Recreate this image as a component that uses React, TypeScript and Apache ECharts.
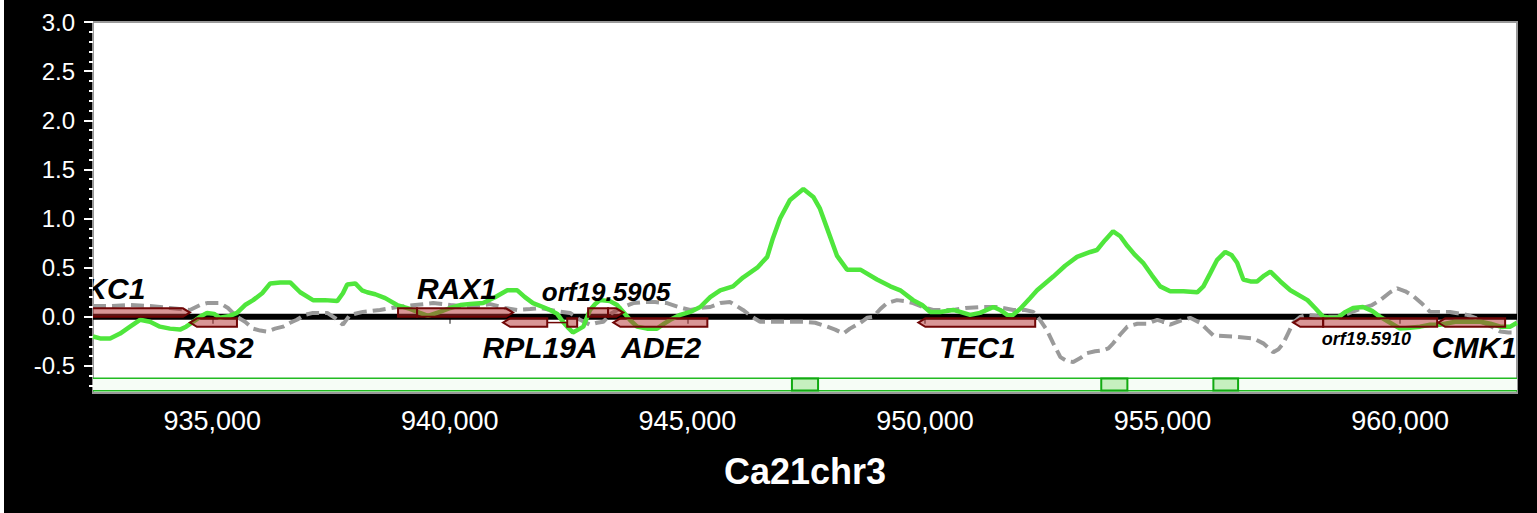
import React, { useEffect, useRef } from "react";
import * as echarts from "echarts";

const X_MIN = 932490;
const X_MAX = 962460;
const Y_MIN = -0.775;
const Y_MAX = 3.0;

const chromosomeName = "Ca21chr3";

const xTickValues = [935000, 940000, 945000, 950000, 955000, 960000];
const yTickValues = [-0.5, 0, 0.5, 1.0, 1.5, 2.0, 2.5, 3.0];
const yMinorTickValues = [
  -0.7, -0.6, -0.5, -0.4, -0.3, -0.2, -0.1, 0, 0.1, 0.2, 0.3, 0.4, 0.5, 0.6, 0.7, 0.8, 0.9, 1.0,
  1.1, 1.2, 1.3, 1.4, 1.5, 1.6, 1.7, 1.8, 1.9, 2.0, 2.1, 2.2, 2.3, 2.4, 2.5, 2.6, 2.7, 2.8, 2.9, 3.0,
];

// solid green profile
const greenPos = [
  932490, 932640, 932850, 933060, 933270, 933480, 933690, 933900, 934110, 934320, 934450, 934570,
  934740, 934890, 935040, 935160, 935370, 935520, 935690, 935860, 936050, 936220, 936430, 936640,
  936850, 937120, 937370, 937630, 937750, 937840, 938010, 938150, 938260, 938430, 938640, 938890,
  939160, 939370, 939540, 939790, 940010, 940220, 940430, 940700, 940950, 941210, 941420, 941580,
  941750, 941960, 942110, 942260, 942380, 942490, 942590, 942700, 942810, 942950, 943060, 943160,
  943370, 943520, 943650, 943790, 943940, 944150, 944360, 944510, 944640, 944850, 945060, 945270,
  945480, 945690, 945960, 946170, 946470, 946680, 946800, 946950, 947160, 947440, 947650, 947790,
  947940, 948150, 948360, 948640, 948990, 949270, 949480, 949750, 949940, 950110, 950320, 950590,
  950740, 950950, 951160, 951440, 951580, 951730, 951840, 952000, 952210, 952360, 952700, 952950,
  953200, 953480, 953620, 953790, 953960, 954110, 954260, 954420, 954590, 954780, 954950, 955160,
  955440, 955730, 955860, 956000, 956150, 956320, 956450, 956570, 956700, 956850, 956990, 957140,
  957270, 957480, 957690, 958050, 958210, 958380, 958530, 958680, 958850, 959010, 959220, 959410,
  959580, 959790, 960000, 960210, 960420, 960630, 960840, 961160, 961410, 961690, 961900, 962110,
  962320, 962460,
];
const greenVal = [
  -0.2, -0.22, -0.22, -0.17, -0.1, -0.03, -0.05, -0.1, -0.12, -0.13, -0.1, -0.06,
  0.0, 0.04, 0.03, -0.01, 0.01, 0.04, 0.12, 0.17, 0.24, 0.34, 0.35, 0.35,
  0.25, 0.17, 0.17, 0.16, 0.24, 0.33, 0.34, 0.27, 0.25, 0.23, 0.19, 0.12,
  0.08, 0.04, 0.01, 0.05, 0.09, 0.12, 0.13, 0.14, 0.2, 0.27, 0.27, 0.2,
  0.14, 0.1, 0.07, 0.03, -0.05, -0.11, -0.16, -0.13, -0.1, 0.07, 0.13, 0.17,
  0.16, 0.12, 0.05, -0.03, -0.1, -0.12, -0.12, -0.07, -0.03, 0.02, 0.05, 0.1,
  0.2, 0.27, 0.31, 0.4, 0.5, 0.61, 0.8, 1.0, 1.19, 1.3, 1.22, 1.1,
  0.9, 0.62, 0.48, 0.48, 0.38, 0.31, 0.27, 0.17, 0.12, 0.05, 0.05, 0.07,
  0.05, 0.02, 0.04, 0.1, 0.07, 0.02, 0.015, 0.08, 0.19, 0.27, 0.41, 0.52,
  0.61, 0.66, 0.68, 0.78, 0.87, 0.82, 0.72, 0.63, 0.55, 0.42, 0.31, 0.26,
  0.26, 0.25, 0.31, 0.44, 0.58, 0.66, 0.63, 0.55, 0.38, 0.36, 0.36, 0.42,
  0.46, 0.36, 0.27, 0.17, 0.09, 0.0, -0.01, -0.01, 0.05, 0.09, 0.1, 0.06,
  0.0, -0.06, -0.12, -0.11, -0.1, -0.08, -0.08, -0.05, -0.05, -0.05, -0.07, -0.1,
  -0.1, -0.06,
];

// dashed grey profile
const greyPos = [
  932490, 932850, 933270, 933690, 934110, 934530, 934740, 934890, 935160, 935330, 935520, 935690,
  935860, 936010, 936150, 936320, 936490, 936640, 936780, 936950, 937120, 937420, 937580, 937750,
  937900, 938170, 938530, 938890, 939270, 939650, 940010, 940430, 940850, 941160, 941420, 941690,
  941900, 942220, 942530, 942740, 942950, 943100, 943230, 943410, 943650, 943860, 944070, 944320,
  944570, 944810, 945060, 945270, 945480, 945690, 945900, 946170, 946360, 946530, 946950, 947440,
  947690, 947940, 948110, 948280, 948420, 948640, 948780, 948910, 949060, 949200, 949410, 949580,
  949750, 949960, 950170, 950590, 950850, 951160, 951520, 951860, 952110, 952280, 952420, 952570,
  952700, 952850, 952990, 953120, 953270, 953410, 953580, 953750, 953860, 953960, 954110, 954260,
  954470, 954680, 954890, 955020, 955160, 955370, 955580, 955790, 955940, 956070, 956490, 956910,
  957120, 957330, 957440, 957540, 957650, 957750, 957900, 958050, 958380, 958740, 958990, 959220,
  959410, 959580, 959790, 959940, 960110, 960280, 960470, 960630, 960840, 961050, 961410, 961580,
  961750, 961930, 962110, 962280, 962460,
];
const greyVal = [
  0.11, 0.11, 0.12, 0.11, 0.09, 0.07, 0.12, 0.14, 0.14, 0.09, 0.0, -0.05,
  -0.12, -0.14, -0.15, -0.12, -0.1, -0.06, -0.03, 0.02, 0.04, 0.04, -0.01, -0.08,
  0.02, 0.05, 0.07, 0.1, 0.12, 0.14, 0.12, 0.1, 0.13, 0.09, 0.07, 0.08,
  0.09, 0.06, 0.04, -0.03, -0.08, -0.06, -0.05, 0.04, 0.1, 0.14, 0.15, 0.15,
  0.14, 0.1, 0.07, 0.09, 0.1, 0.14, 0.15, 0.07, 0.0, -0.05, -0.05, -0.05,
  -0.06, -0.1, -0.13, -0.17, -0.12, -0.06, -0.01, 0.0, 0.08, 0.14, 0.17, 0.16,
  0.14, 0.1, 0.07, 0.07, 0.09, 0.1, 0.1, 0.07, 0.07, 0.05, -0.03, -0.14,
  -0.27, -0.41, -0.45, -0.46, -0.42, -0.37, -0.35, -0.34, -0.32, -0.27, -0.18, -0.1,
  -0.07, -0.07, -0.03, -0.05, -0.08, -0.04, -0.01, -0.06, -0.13, -0.19, -0.2, -0.22,
  -0.27, -0.36, -0.33, -0.27, -0.16, -0.06, 0.0, 0.02, 0.0, 0.0, 0.05, 0.09,
  0.12, 0.17, 0.25, 0.29, 0.26, 0.21, 0.13, 0.05, 0.05, 0.05, 0.02, -0.01,
  -0.06, -0.1, -0.15, -0.16, -0.16,
];

// gene features
const geneNames = ["PKC1", "RAS2", "RAX1", "RPL19A", "orf19.5905", "ADE2", "TEC1", "orf19.5910", "CMK1"];
const geneStrands = [1, -1, 1, -1, 1, -1, -1, -1, -1];
const geneExons: number[][][] = [
  [[930800, 934530]],
  [[934530, 935520]],
  [[938910, 939310], [939310, 941330]],
  [[941120, 942050], [942470, 942680]],
  [[942910, 943330], [943330, 943650]],
  [[943440, 945420]],
  [[949860, 952320]],
  [[957750, 958380], [958380, 960780]],
  [[960800, 962210]],
];

// gene labels (text, position, value)
const labelTexts = ["KC1", "RAS2", "RAX1", "RPL19A", "orf19.5905", "ADE2", "TEC1", "orf19.5910", "CMK1"];
const labelPos = [932960, 935030, 940150, 941900, 943290, 944450, 951100, 959290, 961560];
const labelVal = [0.285, -0.31, 0.285, -0.31, 0.25, -0.31, -0.31, -0.23, -0.31];

// annotation track hits
const trackStarts = [947200, 953710, 956070];
const trackEnds = [947750, 954260, 956590];

const LABEL_SIZE: Record<string, number> = { "orf19.5905": 26, "orf19.5910": 18 };
const FONT = "'Liberation Sans', Arial, Helvetica, sans-serif";
const GENE_FILL = "rgba(180,45,45,0.5)";
const GENE_STROKE = "#700606";

export default function App() {
  const ref = useRef<HTMLDivElement>(null);

  useEffect(() => {
    if (!ref.current) return;
    const chart = echarts.init(ref.current, null, { renderer: "svg" });

    const option: any = {
      animation: false,
      backgroundColor: "#000",
      grid: {
        left: 89,
        right: 20,
        top: 22,
        bottom: 120,
        show: true,
        backgroundColor: "#fff",
        borderColor: "#999",
        borderWidth: 2,
      },
      xAxis: {
        type: "value",
        min: X_MIN,
        max: X_MAX,
        name: chromosomeName,
        nameLocation: "middle",
        nameGap: 60,
        nameTextStyle: { color: "#fff", fontSize: 36, fontWeight: "bold", fontFamily: FONT },
        axisLine: { show: false },
        splitLine: { show: false },
        axisTick: {
          show: true,
          customValues: xTickValues,
          length: 7,
          lineStyle: { color: "#888", width: 2 },
        },
        axisLabel: {
          customValues: xTickValues,
          color: "#fff",
          fontSize: 27,
          fontFamily: FONT,
          margin: 14,
          formatter: (v: number) => v.toLocaleString("en-US"),
        },
      },
      yAxis: [
        {
          type: "value",
          min: Y_MIN,
          max: Y_MAX,
          position: "left",
          axisLine: { show: false },
          splitLine: { show: false },
          axisTick: {
            show: true,
            customValues: yTickValues,
            length: 9,
            lineStyle: { color: "#fff", width: 2 },
          },
          axisLabel: {
            customValues: yTickValues,
            color: "#fff",
            fontSize: 24,
            fontFamily: FONT,
            margin: 18,
            formatter: (v: number) => v.toFixed(1),
          },
        },
        {
          type: "value",
          min: Y_MIN,
          max: Y_MAX,
          position: "left",
          axisLine: { show: false },
          splitLine: { show: false },
          axisLabel: { show: false },
          axisTick: {
            show: true,
            customValues: yMinorTickValues,
            length: 4,
            lineStyle: { color: "#fff", width: 2 },
          },
        },
      ],
      series: [
        {
          type: "line",
          name: "zero",
          data: [
            [X_MIN, 0],
            [X_MAX, 0],
          ],
          symbol: "none",
          lineStyle: { color: "#000", width: 6 },
          z: 1,
          silent: true,
        },
        {
          type: "custom",
          name: "trackBand",
          data: [[X_MIN, X_MAX, 0]],
          encode: { x: [0, 1], y: 2 },
          z: 1,
          silent: true,
          renderItem: (params: any, api: any) => {
            const cs = params.coordSys;
            const bottom = cs.y + cs.height;
            const top = bottom - 14.7;
            const low = bottom - 2.3;
            return {
              type: "group",
              children: [
                { type: "rect", shape: { x: cs.x, y: top, width: cs.width, height: low - top }, style: { fill: "#f6fdf6" } },
                { type: "line", shape: { x1: cs.x, y1: top, x2: cs.x + cs.width, y2: top }, style: { stroke: "#22bb22", lineWidth: 1.5 } },
                { type: "line", shape: { x1: cs.x, y1: low, x2: cs.x + cs.width, y2: low }, style: { stroke: "#22bb22", lineWidth: 1.5 } },
              ],
            };
          },
        },
        {
          type: "custom",
          name: "trackHits",
          data: trackStarts.map((s, i) => [s, trackEnds[i], 0]),
          encode: { x: [0, 1], y: 2 },
          z: 2,
          silent: true,
          renderItem: (params: any, api: any) => {
            const cs = params.coordSys;
            const bottom = cs.y + cs.height;
            const x0 = api.coord([api.value(0), 0])[0];
            const x1 = api.coord([api.value(1), 0])[0];
            return {
              type: "rect",
              shape: { x: x0, y: bottom - 14.5, width: x1 - x0, height: 12 },
              style: { fill: "#c6f0bf", stroke: "#11aa11", lineWidth: 2 },
            };
          },
        },
        {
          type: "line",
          name: "grey",
          data: greyPos.map((x, i) => [x, greyVal[i]]),
          symbol: "none",
          showSymbol: false,
          lineStyle: { color: "#9a9a9a", width: 4, type: [13, 6] },
          z: 3,
          silent: true,
        },
        {
          type: "line",
          name: "green",
          data: greenPos.map((x, i) => [x, greenVal[i]]),
          symbol: "none",
          showSymbol: false,
          lineStyle: { color: "#4fe63c", width: 4.5 },
          z: 4,
          silent: true,
        },
        {
          type: "custom",
          name: "genes",
          clip: true,
          z: 5,
          silent: true,
          data: geneNames.map((n, i) => [geneExons[i][0][0], geneExons[i][geneExons[i].length - 1][1], 0, i]),
          encode: { x: [0, 1], y: 2 },
          renderItem: (params: any, api: any) => {
            const i = api.value(3);
            const exons = geneExons[i];
            const strand = geneStrands[i];
            const y0 = api.coord([X_MIN, 0])[1];
            const top = strand > 0 ? y0 - 8.5 : y0 + 1.5;
            const bot = strand > 0 ? y0 : y0 + 10;
            const mid = (top + bot) / 2;
            const TIP = 7;
            const children: any[] = [];
            for (let k = 0; k < exons.length - 1; k++) {
              const a = api.coord([exons[k][1], 0])[0];
              const b = api.coord([exons[k + 1][0], 0])[0];
              if (b - a > 1) {
                children.push({
                  type: "line",
                  shape: { x1: a, y1: mid, x2: b, y2: mid },
                  style: { stroke: GENE_STROKE, lineWidth: 1.5 },
                });
              }
            }
            exons.forEach((ex, k) => {
              const xs = api.coord([ex[0], 0])[0];
              const xe = api.coord([ex[1], 0])[0];
              let pts: number[][];
              if (strand > 0 && k === exons.length - 1) {
                pts = [[xs, top], [xe - TIP, top], [xe, mid], [xe - TIP, bot], [xs, bot]];
              } else if (strand < 0 && k === 0) {
                pts = [[xs, mid], [xs + TIP, top], [xe, top], [xe, bot], [xs + TIP, bot]];
              } else {
                pts = [[xs, top], [xe, top], [xe, bot], [xs, bot]];
              }
              children.push({
                type: "polygon",
                shape: { points: pts },
                style: { fill: GENE_FILL, stroke: GENE_STROKE, lineWidth: 2 },
              });
            });
            return { type: "group", children };
          },
        },
        {
          type: "custom",
          name: "geneLabels",
          clip: true,
          z: 6,
          silent: true,
          data: labelTexts.map((t, i) => [labelPos[i], labelVal[i], i]),
          encode: { x: 0, y: 1 },
          renderItem: (params: any, api: any) => {
            const i = api.value(2);
            const p = api.coord([api.value(0), api.value(1)]);
            const text = labelTexts[i];
            const size = LABEL_SIZE[text] || 30;
            return {
              type: "text",
              x: p[0],
              y: p[1],
              style: {
                text,
                fill: "#000",
                fontSize: size,
                fontWeight: "bold",
                fontStyle: "italic",
                fontFamily: FONT,
                textAlign: "center",
                textVerticalAlign: "middle",
              },
            };
          },
        },
      ],
    };

    chart.setOption(option);
    return () => {
      chart.dispose();
    };
  }, []);

  return (
    <div style={{ position: "fixed", left: 0, top: 0, width: 1537, height: 513, background: "#fff" }}>
      <div ref={ref} style={{ position: "absolute", left: 4, top: 0, width: 1533, height: 513 }} />
    </div>
  );
}
